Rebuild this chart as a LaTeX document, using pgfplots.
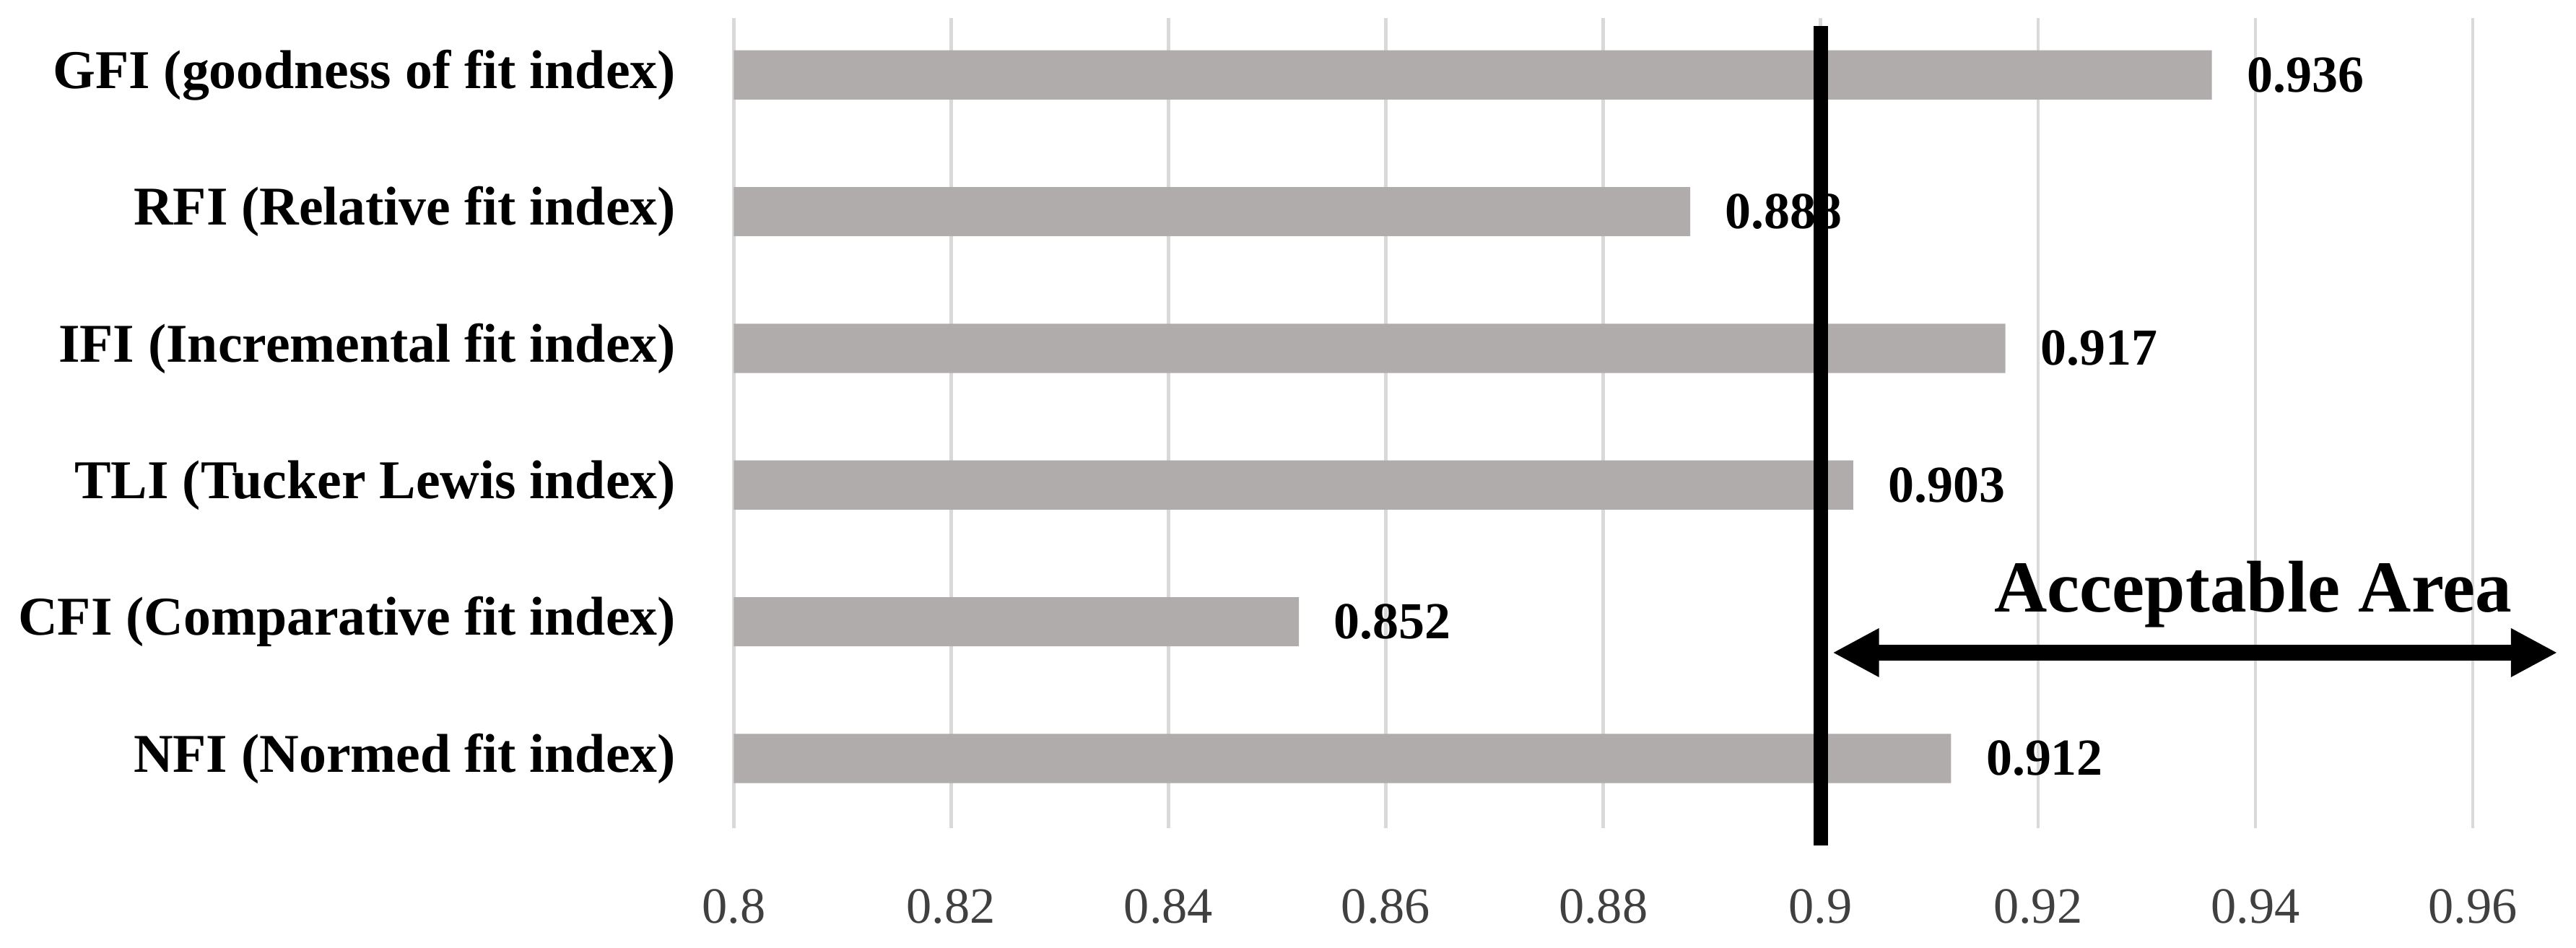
\documentclass[border=0pt]{standalone}
\usepackage{fontspec}
\setmainfont{Liberation Serif}
\usepackage{pgfplots}
\pgfplotsset{compat=1.18}
\usetikzlibrary{arrows.meta}
\definecolor{barfill}{RGB}{176,172,171}
\definecolor{gridgray}{RGB}{217,217,217}
\definecolor{ticktext}{RGB}{64,64,64}

\begin{document}
\begin{tikzpicture}
\begin{axis}[
  xbar, scale only axis,
  width=318.1pt, height=148.2pt,
  xmin=0.8, xmax=0.96, ymin=0.49, ymax=6.416,
  xtick={0.8,0.82,0.84,0.86,0.88,0.9,0.92,0.94,0.96},
  ytick={1,2,3,4,5,6},
  yticklabels={NFI (Normed fit index),CFI (Comparative fit index),TLI (Tucker Lewis index),IFI (Incremental fit index),RFI (Relative fit index),GFI (goodness of fit index)},
  xmajorgrids, grid style={gridgray, line width=0.6pt},
  axis line style={draw=none},
  major tick length=0pt, tick style={draw=none},
  clip mode=individual,
  bar width=9pt,
  /pgf/number format/assume math mode=true,
  x tick label style={font=\fontsize{9.3}{11}\selectfont, text=ticktext, yshift=-7.6pt},
  y tick label style={font=\fontsize{10}{12}\selectfont\bfseries, xshift=-7.1pt},
  nodes near coords, point meta=explicit symbolic,
  every node near coord/.append style={font=\fontsize{9.5}{11}\selectfont\bfseries, anchor=west, xshift=2.9pt, text=black},
]
\addplot[fill=barfill, draw=none] coordinates {
  (0.912,1) [0.912]
  (0.852,2) [0.852]
  (0.903,3) [0.903]
  (0.917,4) [0.917]
  (0.888,5) [0.888]
  (0.936,6) [0.936]
};
% threshold line and acceptable range
\draw[black, line width=2.6pt] (axis cs:0.9,0.364) -- (axis cs:0.9,6.359);
\draw[black, line width=2.9pt, {Triangle[length=8.5pt,width=8.3pt]}-{Triangle[length=8.5pt,width=8.3pt]}]
  (axis cs:0.9011,1.774) -- (axis cs:0.9678,1.774);
\node[anchor=base, font=\fontsize{13.4}{16}\selectfont\bfseries] at (axis cs:0.9398,2.074) {Acceptable Area};
\path (rel axis cs:-0.4194,-0.1478) rectangle (rel axis cs:1.0594,1.0223);
\end{axis}
\end{tikzpicture}
\end{document}
